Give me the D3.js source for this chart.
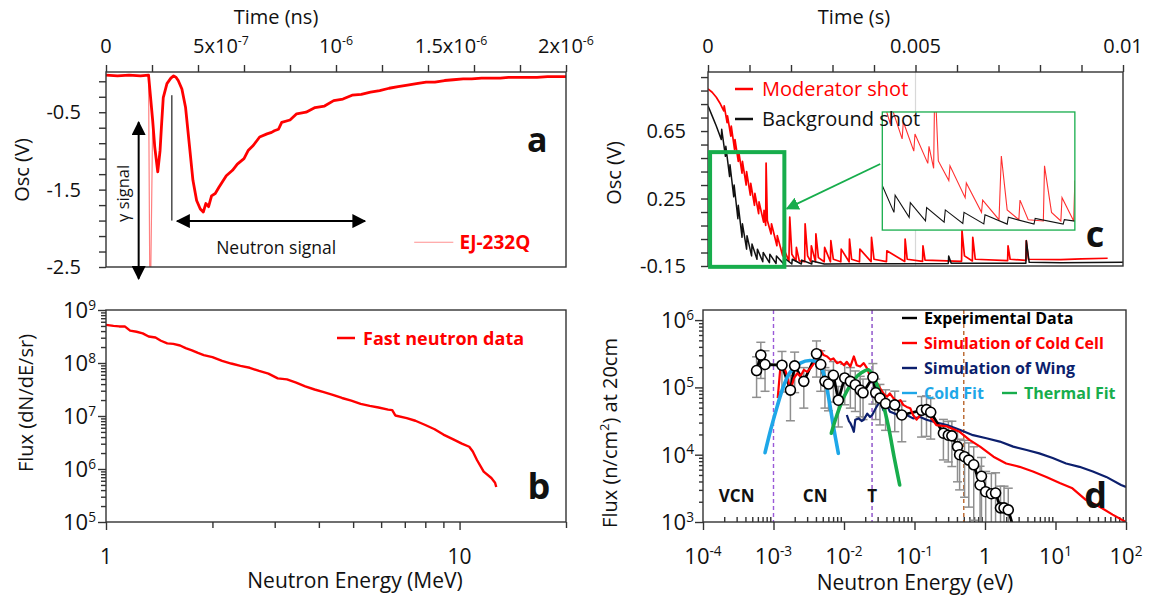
<!DOCTYPE html>
<html>
<head>
<meta charset="utf-8">
<script src="https://cdn.jsdelivr.net/npm/d3@7"></script>
<style>
  body { margin: 0; background: #fff; }
  svg { font-family: "Open Sans", "Noto Sans", sans-serif; }
</style>
</head>
<body>
<svg id="fig" width="1157" height="597"></svg>
<script>
// ---------- panel a : scintillator pulse (time in microseconds, volts) ----------
const pulseTimeUs = [0, 0.05, 0.1, 0.15, 0.185, 0.203, 0.212, 0.225, 0.235, 0.241, 0.249, 0.265, 0.282, 0.294, 0.305,
  0.314, 0.330, 0.346, 0.362, 0.378, 0.394, 0.410, 0.423, 0.434, 0.446, 0.459, 0.475, 0.491, 0.523, 0.55,
  0.571, 0.60, 0.619, 0.64, 0.668, 0.70, 0.72, 0.732, 0.75, 0.764, 0.80, 0.829, 0.87, 0.909, 0.95,
  0.99, 1.03, 1.07, 1.11, 1.15, 1.19, 1.231, 1.27, 1.311, 1.35, 1.392, 1.43, 1.472, 1.51, 1.553,
  1.59, 1.633, 1.67, 1.714, 1.75, 1.794, 1.83, 1.874, 1.92, 1.96, 2.0];
const pulseVolt = [-0.02, -0.03, -0.02, -0.03, -0.02, -0.61, -0.95, -1.27, -1.0, -0.69, -0.31, -0.13, -0.06, -0.03, -0.05,
  -0.09, -0.2, -0.44, -0.91, -1.38, -1.64, -1.75, -1.79, -1.68, -1.72, -1.58, -1.55, -1.47, -1.32, -1.25,
  -1.17, -1.1, -0.99, -0.93, -0.82, -0.78, -0.76, -0.74, -0.72, -0.63, -0.6, -0.52, -0.5, -0.44, -0.42,
  -0.35, -0.33, -0.28, -0.27, -0.24, -0.22, -0.19, -0.17, -0.15, -0.13, -0.11, -0.11, -0.09, -0.08, -0.07,
  -0.07, -0.06, -0.06, -0.06, -0.05, -0.05, -0.05, -0.05, -0.04, -0.04, -0.04];
const gammaTimeUs = [0.185, 0.19, 0.195, 0.203];
const gammaVolt = [-0.02, -2.5, -2.5, -0.61];
const timeTicksUs = [0, 0.2, 0.4, 0.6, 0.8, 1.0, 1.2, 1.4, 1.6, 1.8, 2.0];
const timeLabelsUs = [0, 0.5, 1, 1.5, 2];
const timeLabelText = [['0', ''], ['5x10', '-7'], ['10', '-6'], ['1.5x10', '-6'], ['2x10', '-6']];
const voltTicks = [-2.5, -2.3, -2.1, -1.9, -1.7, -1.5, -1.3, -1.1, -0.9, -0.7, -0.5, -0.3, -0.1];
const voltLabels = [-0.5, -1.5, -2.5];

// ---------- panel b : fast neutron spectrum ----------
const fastEnergy = [1.0, 1.05, 1.09, 1.13, 1.17, 1.22, 1.27, 1.32, 1.38, 1.43, 1.49, 1.55, 1.62, 1.68, 1.75,
  1.82, 1.89, 2.0, 2.13, 2.26, 2.40, 2.55, 2.71, 2.88, 3.06, 3.25, 3.45, 3.66, 3.89, 4.13,
  4.38, 4.65, 4.94, 5.25, 5.57, 5.9, 6.28, 6.45, 6.58, 7.09, 7.5, 8.0, 8.5, 9.0, 9.6,
  10.15, 10.65, 10.9, 11.2, 11.7, 12.3, 12.6, 12.7];
const fastLogFlux = [8.72, 8.70, 8.69, 8.69, 8.61, 8.59, 8.56, 8.50, 8.48, 8.42, 8.37, 8.36, 8.33, 8.28, 8.24,
  8.19, 8.15, 8.11, 8.04, 7.99, 7.945, 7.91, 7.85, 7.80, 7.71, 7.69, 7.63, 7.56, 7.50, 7.45,
  7.40, 7.34, 7.29, 7.23, 7.19, 7.16, 7.12, 7.11, 7.01, 6.96, 6.91, 6.83, 6.75, 6.65, 6.56,
  6.48, 6.42, 6.33, 6.17, 5.95, 5.83, 5.74, 5.66];
const fastDecades = [5, 6, 7, 8, 9];
const fastEnergyLabels = [1, 10];

// ---------- panel c : oscilloscope traces (time in ms, volts) ----------
const bgTimeMs = [0, 0.10, 0.20, 0.32, 0.33, 0.42, 0.43, 0.52, 0.53, 0.62, 0.63, 0.72, 0.73, 0.82, 0.83,
  0.93, 0.94, 1.05, 1.06, 1.18, 1.19, 1.32, 1.33, 1.48, 1.49, 1.64, 1.65, 1.82, 1.83, 2.02,
  2.03, 2.25, 2.26, 2.5, 2.51, 2.8, 3.5, 4.5, 5.79, 5.80, 5.86, 7.66, 7.67, 7.74, 8.5, 10.0];
const bgVolt = [0.80, 0.74, 0.68, 0.60, 0.66, 0.50, 0.56, 0.38, 0.45, 0.26, 0.33, 0.13, 0.21, 0.02, 0.10,
  -0.05, 0.03, -0.09, -0.02, -0.11, -0.05, -0.125, -0.07, -0.13, -0.08, -0.135, -0.09, -0.137, -0.10, -0.138,
  -0.11, -0.138, -0.115, -0.138, -0.12, -0.138, -0.137, -0.136, -0.135, -0.09, -0.134, -0.133, 0.0, -0.128, -0.13, -0.128];
const modTimeMs = [0, 0.10, 0.20, 0.30, 0.38, 0.39, 0.46, 0.47, 0.55, 0.56, 0.64, 0.65, 0.73, 0.74, 0.82,
  0.83, 0.92, 0.93, 1.02, 1.03, 1.12, 1.13, 1.22, 1.23, 1.34, 1.35, 1.39, 1.40, 1.43, 1.52,
  1.53, 1.66, 1.67, 1.80, 1.81, 1.95, 1.97, 2.02, 2.12, 2.13, 2.2, 2.33, 2.34, 2.40, 2.48,
  2.49, 2.59, 2.60, 2.66, 2.80, 2.81, 2.95, 2.96, 3.02, 3.20, 3.21, 3.40, 3.41, 3.46, 3.65,
  3.66, 3.93, 3.94, 4.00, 4.30, 4.31, 4.74, 4.75, 4.80, 5.17, 5.18, 5.23, 6.11, 6.12, 6.18,
  6.37, 6.38, 6.44, 7.22, 7.23, 7.28, 7.66, 7.67, 7.72, 8.5, 9.0, 9.63];
const modVolt = [0.90, 0.88, 0.85, 0.81, 0.77, 0.80, 0.70, 0.74, 0.62, 0.68, 0.54, 0.60, 0.47, 0.53, 0.40,
  0.47, 0.33, 0.41, 0.27, 0.34, 0.21, 0.28, 0.16, 0.23, 0.11, 0.18, 0.09, 0.46, 0.12, 0.04,
  0.10, -0.03, 0.03, -0.09, -0.04, -0.12, 0.14, -0.08, -0.12, -0.04, -0.12, -0.125, 0.10, -0.09, -0.125,
  -0.03, -0.125, 0.04, -0.10, -0.125, -0.04, -0.125, 0.00, -0.11, -0.125, -0.05, -0.125, 0.01, -0.11, -0.125,
  -0.05, -0.124, 0.02, -0.11, -0.124, -0.06, -0.123, 0.01, -0.11, -0.123, -0.03, -0.115, -0.122, 0.06, -0.09,
  -0.12, 0.02, -0.11, -0.118, -0.03, -0.11, -0.117, 0.00, -0.11, -0.112, -0.108, -0.104];
const oscTicksMs = [0, 1, 2, 3, 4, 5, 6, 7, 8, 9, 10];
const oscLabelsMs = [0, 5, 10];
const oscVoltTicks = [-0.15, -0.07, 0.01, 0.09, 0.17, 0.25, 0.33, 0.41, 0.49, 0.57, 0.65, 0.73, 0.81, 0.89, 0.97];
const oscVoltLabels = [-0.15, 0.25, 0.65];
const insetWindowMs = [0.95, 2.6];
const insetWindowVolt = [-0.15, 0.32];

// ---------- panel d : slow neutron spectrum (log10 of energy in eV, log10 of flux) ----------
const expLogE = [-3.24, -3.18, -3.12, -2.88, -2.76, -2.70, -2.57, -2.39, -2.33, -2.27, -2.22, -2.15, -2.08, -1.99, -1.91,
  -1.84, -1.77, -1.73, -1.59, -1.55, -1.49, -1.41, -1.28, -1.18, -0.90, -0.83, -0.77, -0.59, -0.52, -0.47,
  -0.39, -0.36, -0.29, -0.23, -0.16, -0.07, -0.05, 0.01, 0.09, 0.15, 0.22, 0.27, 0.33];
const expLogF = [5.25, 5.48, 5.34, 5.33, 4.96, 5.32, 5.09, 5.50, 5.34, 5.09, 5.05, 5.18, 4.81, 5.14, 5.09,
  5.04, 4.96, 4.92, 5.15, 4.92, 4.84, 4.76, 4.74, 4.59, 4.66, 4.67, 4.63, 4.32, 4.29, 4.28,
  4.12, 4.00, 3.97, 3.92, 3.85, 3.55, 3.68, 3.45, 3.42, 3.43, 3.21, 3.21, 3.18];
const expErrFrac = [0.6, 0.55, 0.6, 0.6, 0.65, 0.6, 0.6, 0.55, 0.6, 0.6, 0.6, 0.6, 0.6, 0.6, 0.6,
  0.6, 0.6, 0.6, 0.6, 0.6, 0.6, 0.6, 0.6, 0.6, 0.6, 0.6, 0.6, 0.6, 0.6, 0.65,
  0.7, 0.7, 0.75, 0.8, 0.85, 0.9, 0.9, 1.0, 1.0, 1.0, 1.1, 1.1, 1.1];
const expTailLogE = [0.42];
const expTailLogF = [2.85];
const coldCellLogE = [-2.94, -2.90, -2.87, -2.80, -2.76, -2.71, -2.66, -2.62, -2.57, -2.52, -2.48, -2.43, -2.38, -2.33, -2.29,
  -2.24, -2.19, -2.15, -2.10, -2.05, -2.00, -1.96, -1.91, -1.86, -1.82, -1.77, -1.72, -1.67, -1.63, -1.58,
  -1.53, -1.49, -1.44, -1.39, -1.35, -1.30, -1.25, -1.20, -1.16, -1.11, -1.06, -1.02, -0.97, -0.92, -0.87,
  -0.83, -0.78, -0.69, -0.54, -0.36, -0.22, -0.07, 0.12, 0.30, 0.49, 0.68, 0.87, 1.06, 1.24, 1.43,
  1.62, 1.81, 2.0];
const coldCellLogF = [4.84, 5.33, 5.36, 5.16, 4.94, 5.14, 5.21, 5.16, 5.26, 5.23, 5.28, 5.35, 5.48, 5.55, 5.48,
  5.46, 5.41, 5.43, 5.36, 5.38, 5.33, 5.38, 5.31, 5.46, 5.33, 5.31, 5.36, 5.28, 5.16, 5.11,
  5.06, 4.99, 4.91, 4.86, 4.91, 4.84, 4.79, 4.81, 4.74, 4.71, 4.69, 4.59, 4.52, 4.59, 4.66,
  4.61, 4.57, 4.44, 4.42, 4.34, 4.22, 4.12, 3.97, 3.87, 3.82, 3.75, 3.67, 3.58, 3.50, 3.33,
  3.23, 3.11, 3.00];
const wingLogE = [-1.96, -1.93, -1.91, -1.88, -1.86, -1.84, -1.79, -1.75, -1.72, -1.67, -1.63, -1.60, -1.55, -1.49, -1.44,
  -1.39, -1.35, -1.30, -1.20, -1.11, -1.02, -0.92, -0.83, -0.73, -0.54, -0.36, -0.17, 0.02, 0.21, 0.40,
  0.59, 0.77, 0.96, 1.15, 1.34, 1.53, 1.72, 1.93, 2.0];
const wingLogF = [4.59, 4.50, 4.47, 4.40, 4.34, 4.52, 4.54, 4.50, 4.52, 4.61, 4.56, 4.59, 4.69, 4.79, 4.66,
  4.74, 4.64, 4.62, 4.57, 4.59, 4.54, 4.56, 4.52, 4.49, 4.44, 4.37, 4.29, 4.245, 4.195, 4.12,
  4.07, 4.02, 3.95, 3.87, 3.82, 3.75, 3.67, 3.55, 3.52];
const coldFitLogE = [-3.12, -3.04, -2.95, -2.85, -2.76, -2.62, -2.48, -2.36, -2.29, -2.22, -2.15, -2.08];
const coldFitLogF = [4.03, 4.37, 4.71, 5.04, 5.23, 5.36, 5.40, 5.36, 5.21, 4.86, 4.42, 4.02];
const thermalFitLogE = [-2.18, -2.10, -2.00, -1.86, -1.75, -1.65, -1.56, -1.46, -1.37, -1.29, -1.21];
const thermalFitLogF = [4.32, 4.59, 4.86, 5.11, 5.22, 5.26, 5.11, 4.81, 4.42, 3.97, 3.55];
const regionEdgesEv = [0.001, 0.025, 0.5];
const regionEdgeColors = ['#9a5ad8', '#8a4cc8', '#b8642a'];
const energyDecades = [-4, -3, -2, -1, 0, 1, 2];
const energyLabelText = [['10', '-4'], ['10', '-3'], ['10', '-2'], ['10', '-1'], ['1', ''], ['10', '1'], ['10', '2']];
const fluxDecades = [3, 4, 5, 6];

// ---------- layout ----------
const boxA = { x0: 106, x1: 566, y0: 72, y1: 267 };
const boxB = { x0: 106, x1: 566, y0: 310, y1: 522 };
const boxC = { x0: 708, x1: 1123, y0: 72, y1: 266 };
const boxD = { x0: 703, x1: 1126, y0: 310, y1: 522 };
const RED = '#ff0000', NAVY = '#0c1f6d', SKY = '#1ea7e8', GREEN = '#17ad4c';

const svg = d3.select('#fig');
svg.append('rect').attr('width', 1157).attr('height', 597).attr('fill', '#fff');
const defs = svg.append('defs');

function arrowMarker(id, color, size) {
  defs.append('marker').attr('id', id)
    .attr('viewBox', '0 0 10 10').attr('refX', 9).attr('refY', 5)
    .attr('markerWidth', size).attr('markerHeight', size)
    .attr('markerUnits', 'userSpaceOnUse')
    .attr('orient', 'auto-start-reverse')
    .append('path').attr('d', 'M0,0 L10,5 L0,10 Z').attr('fill', color);
}
arrowMarker('arrK', '#000', 14);
arrowMarker('arrG', GREEN, 13);

function clipRect(id, b) {
  defs.append('clipPath').attr('id', id).append('rect')
    .attr('x', b.x0).attr('y', b.y0).attr('width', b.x1 - b.x0).attr('height', b.y1 - b.y0);
}
function frame(g, b) {
  g.append('rect').attr('x', b.x0).attr('y', b.y0)
    .attr('width', b.x1 - b.x0).attr('height', b.y1 - b.y0)
    .attr('fill', 'none').attr('stroke', '#333').attr('stroke-width', 1.4);
}
function cleanAxis(sel) {
  sel.select('.domain').remove();
  sel.selectAll('.tick line').attr('stroke', '#333').attr('stroke-width', 1.4);
}
function supText(parent, x, y, base, sup, size, anchor) {
  const t = parent.append('text').attr('x', x).attr('y', y)
    .attr('font-size', size).attr('text-anchor', anchor).attr('fill', '#111');
  t.append('tspan').text(base);
  if (sup) t.append('tspan').attr('dy', -size * 0.38).attr('font-size', size * 0.62).text(sup);
  return t;
}
function label(parent, x, y, txt, size, opts = {}) {
  const t = parent.append('text').attr('x', x).attr('y', y)
    .attr('font-size', size).attr('text-anchor', opts.anchor || 'middle')
    .attr('fill', opts.color || '#111')
    .attr('font-weight', opts.bold ? 700 : 400)
    .text(txt);
  if (opts.rotate) t.attr('transform', `rotate(-90,${x},${y})`);
  return t;
}
const near = (list, v) => list.some(l => Math.abs(l - v) < 1e-6);

// =========================== panel a ===========================
const gA = svg.append('g');
clipRect('clipA', boxA);
const xA = d3.scaleLinear().domain([0, 2]).range([boxA.x0, boxA.x1]);
const yA = d3.scaleLinear().domain([-2.5, 0.02]).range([boxA.y1, boxA.y0]);

gA.append('g').attr('transform', `translate(0,${boxA.y0})`)
  .call(d3.axisTop(xA).tickValues(timeTicksUs).tickSize(7).tickSizeOuter(0).tickFormat(''))
  .call(cleanAxis);
gA.append('g').attr('transform', `translate(${boxA.x0},0)`)
  .call(d3.axisLeft(yA).tickValues(voltTicks).tickSize(7).tickSizeOuter(0).tickFormat(''))
  .call(cleanAxis);
timeLabelsUs.forEach((t, i) => supText(gA, xA(t), 53, timeLabelText[i][0], timeLabelText[i][1], 20, 'middle'));
voltTicks.filter(v => near(voltLabels, v)).forEach(v => label(gA, boxA.x0 - 25, yA(v) + 7, v.toFixed(1), 20, { anchor: 'end' }));
label(gA, 276, 24, 'Time (ns)', 20);
label(gA, 29, 170, 'Osc (V)', 20, { rotate: true });

const lineA = d3.line().x(d => xA(d[0])).y(d => yA(d[1]));
const plotA = gA.append('g').attr('clip-path', 'url(#clipA)');
plotA.append('path').datum(d3.zip(gammaTimeUs, gammaVolt)).attr('d', lineA)
  .attr('fill', 'none').attr('stroke', '#ff8080').attr('stroke-width', 1.2);
plotA.append('path').datum(d3.zip(pulseTimeUs, pulseVolt)).attr('d', lineA)
  .attr('fill', 'none').attr('stroke', RED).attr('stroke-width', 2.8).attr('stroke-linejoin', 'round');
frame(gA, boxA);

// annotations
gA.append('line').attr('x1', xA(0.286)).attr('x2', xA(0.286)).attr('y1', yA(-0.28)).attr('y2', yA(-1.9))
  .attr('stroke', '#555').attr('stroke-width', 1.6);
gA.append('line').attr('x1', xA(0.31)).attr('x2', xA(1.126)).attr('y1', yA(-1.907)).attr('y2', yA(-1.907))
  .attr('stroke', '#000').attr('stroke-width', 2).attr('marker-start', 'url(#arrK)').attr('marker-end', 'url(#arrK)');
gA.append('line').attr('x1', xA(0.142)).attr('x2', xA(0.142)).attr('y1', yA(-0.63)).attr('y2', yA(-2.65))
  .attr('stroke', '#000').attr('stroke-width', 2).attr('marker-start', 'url(#arrK)').attr('marker-end', 'url(#arrK)');
label(gA, xA(0.072) + 6, yA(-1.55), 'γ signal', 16.5, { rotate: true });
label(gA, xA(0.74), yA(-2.26) + 6, 'Neutron signal', 17.5);
gA.append('line').attr('x1', xA(1.34)).attr('x2', xA(1.51)).attr('y1', yA(-2.18)).attr('y2', yA(-2.18))
  .attr('stroke', '#ff9090').attr('stroke-width', 1.2);
label(gA, xA(1.537), yA(-2.18) + 7, 'EJ-232Q', 19, { anchor: 'start', bold: true, color: RED });
label(gA, xA(1.875), yA(-0.87) + 11, 'a', 34, { bold: true });

// =========================== panel b ===========================
const gB = svg.append('g');
clipRect('clipB', boxB);
const xB = d3.scaleLog().domain([1, 20]).range([boxB.x0, boxB.x1]);
const yB = d3.scaleLog().domain([1e5, 1e9]).range([boxB.y1, boxB.y0]);
const fluxMinor = [];
fastDecades.slice(0, -1).forEach(p => { for (let m = 2; m <= 9; m++) fluxMinor.push(m * Math.pow(10, p)); });
const energyMinor = [2, 3, 4, 5, 6, 7, 8, 9, 20];

gB.append('g').attr('transform', `translate(${boxB.x0},0)`)
  .call(d3.axisLeft(yB).tickValues(fastDecades.map(p => Math.pow(10, p))).tickSize(8).tickSizeOuter(0).tickFormat(''))
  .call(cleanAxis);
gB.append('g').attr('transform', `translate(${boxB.x0},0)`)
  .call(d3.axisLeft(yB).tickValues(fluxMinor).tickSize(5).tickSizeOuter(0).tickFormat(''))
  .call(cleanAxis);
gB.append('g').attr('transform', `translate(0,${boxB.y1})`)
  .call(d3.axisBottom(xB).tickValues([1, 10]).tickSize(8).tickSizeOuter(0).tickFormat(''))
  .call(cleanAxis);
gB.append('g').attr('transform', `translate(0,${boxB.y1})`)
  .call(d3.axisBottom(xB).tickValues(energyMinor).tickSize(6).tickSizeOuter(0).tickFormat(''))
  .call(cleanAxis);
fastDecades.forEach(p => supText(gB, boxB.x0 - 10, yB(Math.pow(10, p)) + 8, '10', String(p), 22, 'end'));
fastEnergyLabels.forEach(e => label(gB, xB(e), 564, String(e), 21));
label(gB, 355, 588, 'Neutron Energy (MeV)', 21);
label(gB, 33, 403, 'Flux (dN/dE/sr)', 20, { rotate: true });

const lineB = d3.line().x(d => xB(d[0])).y(d => yB(Math.pow(10, d[1])));
gB.append('g').attr('clip-path', 'url(#clipB)').append('path')
  .datum(d3.zip(fastEnergy, fastLogFlux)).attr('d', lineB)
  .attr('fill', 'none').attr('stroke', RED).attr('stroke-width', 2.4).attr('stroke-linejoin', 'round');
frame(gB, boxB);
gB.append('line').attr('x1', 337).attr('x2', 355).attr('y1', 338).attr('y2', 338).attr('stroke', RED).attr('stroke-width', 2.5);
label(gB, 363, 345, 'Fast neutron data', 18, { anchor: 'start', bold: true, color: RED });
label(gB, 539, 499, 'b', 36, { bold: true });

// =========================== panel c ===========================
const gC = svg.append('g');
clipRect('clipC', boxC);
const xC = d3.scaleLinear().domain([0, 10]).range([boxC.x0, boxC.x1]);
const yC = d3.scaleLinear().domain([-0.15, 1.0]).range([boxC.y1, boxC.y0]);

gC.append('g').attr('transform', `translate(0,${boxC.y0})`)
  .call(d3.axisTop(xC).tickValues(oscTicksMs).tickSize(7).tickSizeOuter(0).tickFormat(''))
  .call(cleanAxis);
gC.append('g').attr('transform', `translate(${boxC.x0},0)`)
  .call(d3.axisLeft(yC).tickValues(oscVoltTicks).tickSize(7).tickSizeOuter(0).tickFormat(''))
  .call(cleanAxis);
oscLabelsMs.forEach(t => label(gC, xC(t), 53, String(+(t / 1000).toFixed(3)), 20));
oscVoltTicks.filter(v => near(oscVoltLabels, v)).forEach(v => label(gC, boxC.x0 - 22, yC(v) + 7, v.toFixed(2), 20, { anchor: 'end' }));
label(gC, 854, 24, 'Time (s)', 20);
label(gC, 621, 173, 'Osc (V)', 20, { rotate: true });

gC.append('line').attr('x1', xC(5)).attr('x2', xC(5)).attr('y1', boxC.y0).attr('y2', boxC.y1)
  .attr('stroke', '#d8d8d8').attr('stroke-width', 1.2);
const lineC = d3.line().x(d => xC(d[0])).y(d => yC(d[1]));
const plotC = gC.append('g').attr('clip-path', 'url(#clipC)');
plotC.append('path').datum(d3.zip(modTimeMs, modVolt)).attr('d', lineC)
  .attr('fill', 'none').attr('stroke', RED).attr('stroke-width', 1.7).attr('stroke-linejoin', 'round');
plotC.append('path').datum(d3.zip(bgTimeMs, bgVolt)).attr('d', lineC)
  .attr('fill', 'none').attr('stroke', '#111').attr('stroke-width', 1.5).attr('stroke-linejoin', 'round');
frame(gC, boxC);

// zoom box, inset and arrow
gC.append('rect').attr('x', xC(0.05)).attr('y', yC(0.525))
  .attr('width', xC(1.84) - xC(0.05)).attr('height', yC(-0.155) - yC(0.525))
  .attr('fill', 'none').attr('stroke', GREEN).attr('stroke-width', 4);
const insetBox = { x0: xC(4.2), x1: xC(8.84), y0: yC(0.763), y1: yC(0.063) };
clipRect('clipInset', insetBox);
gC.append('rect').attr('x', insetBox.x0).attr('y', insetBox.y0)
  .attr('width', insetBox.x1 - insetBox.x0).attr('height', insetBox.y1 - insetBox.y0)
  .attr('fill', '#fff').attr('stroke', 'none');
const xIn = d3.scaleLinear().domain(insetWindowMs).range([insetBox.x0, insetBox.x1]);
const yIn = d3.scaleLinear().domain(insetWindowVolt).range([insetBox.y1 - 3, insetBox.y0]);
const lineIn = d3.line().x(d => xIn(d[0])).y(d => yIn(d[1]));
const plotIn = gC.append('g').attr('clip-path', 'url(#clipInset)');
plotIn.append('path').datum(d3.zip(modTimeMs, modVolt)).attr('d', lineIn)
  .attr('fill', 'none').attr('stroke', '#ff3030').attr('stroke-width', 1.1);
plotIn.append('path').datum(d3.zip(bgTimeMs, bgVolt)).attr('d', lineIn)
  .attr('fill', 'none').attr('stroke', '#111').attr('stroke-width', 1.1);
gC.append('rect').attr('x', insetBox.x0).attr('y', insetBox.y0)
  .attr('width', insetBox.x1 - insetBox.x0).attr('height', insetBox.y1 - insetBox.y0)
  .attr('fill', 'none').attr('stroke', GREEN).attr('stroke-width', 1.3);
gC.append('line').attr('x1', xC(4.15)).attr('y1', yC(0.455)).attr('x2', xC(1.9)).attr('y2', yC(0.19))
  .attr('stroke', GREEN).attr('stroke-width', 1.8).attr('marker-end', 'url(#arrG)');

gC.append('line').attr('x1', 735).attr('x2', 753).attr('y1', 89).attr('y2', 89).attr('stroke', RED).attr('stroke-width', 2.5);
label(gC, 762, 96, 'Moderator shot', 20, { anchor: 'start', color: RED });
gC.append('line').attr('x1', 735).attr('x2', 753).attr('y1', 119).attr('y2', 119).attr('stroke', '#111').attr('stroke-width', 2.5);
label(gC, 762, 126, 'Background shot', 20, { anchor: 'start' });
label(gC, 1095, 247, 'c', 36, { bold: true });

// =========================== panel d ===========================
const gD = svg.append('g');
clipRect('clipD', boxD);
const xD = d3.scaleLog().domain([1e-4, 1e2]).range([boxD.x0, boxD.x1]);
const yD = d3.scaleLog().domain([1e3, Math.pow(10, 6.15)]).range([boxD.y1, boxD.y0]);
const eMinor = [], fMinor = [];
energyDecades.slice(0, -1).forEach(p => { for (let m = 2; m <= 9; m++) eMinor.push(m * Math.pow(10, p)); });
fluxDecades.forEach(p => { for (let m = 2; m <= 9; m++) { const v = m * Math.pow(10, p); if (v <= Math.pow(10, 6.15)) fMinor.push(v); } });

gD.append('g').attr('transform', `translate(0,${boxD.y1})`)
  .call(d3.axisBottom(xD).tickValues(energyDecades.map(p => Math.pow(10, p))).tickSize(8).tickSizeOuter(0).tickFormat(''))
  .call(cleanAxis);
gD.append('g').attr('transform', `translate(0,${boxD.y1})`)
  .call(d3.axisTop(xD).tickValues(eMinor).tickSize(5).tickSizeOuter(0).tickFormat(''))
  .call(cleanAxis);
gD.append('g').attr('transform', `translate(${boxD.x0},0)`)
  .call(d3.axisLeft(yD).tickValues(fluxDecades.map(p => Math.pow(10, p))).tickSize(8).tickSizeOuter(0).tickFormat(''))
  .call(cleanAxis);
gD.append('g').attr('transform', `translate(${boxD.x0},0)`)
  .call(d3.axisLeft(yD).tickValues(fMinor).tickSize(4).tickSizeOuter(0).tickFormat(''))
  .call(cleanAxis);
energyDecades.forEach((p, i) => supText(gD, xD(Math.pow(10, p)), 564, energyLabelText[i][0], energyLabelText[i][1], 22, 'middle'));
fluxDecades.forEach(p => supText(gD, boxD.x0 - 9, yD(Math.pow(10, p)) + 8, '10', String(p), 22, 'end'));
label(gD, 915, 590, 'Neutron Energy (eV)', 21);
const yTitle = gD.append('text').attr('x', 617).attr('y', 433).attr('font-size', 20)
  .attr('text-anchor', 'middle').attr('fill', '#111').attr('transform', 'rotate(-90,617,433)');
yTitle.append('tspan').text('Flux (n/cm');
yTitle.append('tspan').attr('dy', -8).attr('font-size', 13).text('2');
yTitle.append('tspan').attr('dy', 8).text(') at 20cm');

const plotD = gD.append('g').attr('clip-path', 'url(#clipD)');
regionEdgesEv.forEach((e, i) => plotD.append('line')
  .attr('x1', xD(e)).attr('x2', xD(e)).attr('y1', boxD.y0).attr('y2', boxD.y1)
  .attr('stroke', regionEdgeColors[i]).attr('stroke-width', 1.4).attr('stroke-dasharray', '4,3'));

const P = v => Math.pow(10, v);
const lineD = d3.line().x(d => xD(P(d[0]))).y(d => yD(P(d[1])));
const smoothD = d3.line().curve(d3.curveCatmullRom).x(d => xD(P(d[0]))).y(d => yD(P(d[1])));

// error bars
const expPts = d3.zip(expLogE, expLogF, expErrFrac);
const errG = plotD.append('g').attr('stroke', '#8f8f8f').attr('stroke-width', 1.5);
expPts.forEach(([le, lf, fr]) => {
  const f = P(lf), x = xD(P(le));
  const top = yD(f * (1 + fr)), bot = yD(Math.max(f * (1 - fr), 300));
  errG.append('line').attr('x1', x).attr('x2', x).attr('y1', top).attr('y2', bot);
  errG.append('line').attr('x1', x - 4.5).attr('x2', x + 4.5).attr('y1', top).attr('y2', top);
  if (fr < 0.95) errG.append('line').attr('x1', x - 4.5).attr('x2', x + 4.5).attr('y1', bot).attr('y2', bot);
});

plotD.append('path').datum(d3.zip(wingLogE, wingLogF)).attr('d', lineD)
  .attr('fill', 'none').attr('stroke', NAVY).attr('stroke-width', 2.2).attr('stroke-linejoin', 'round');
plotD.append('path').datum(d3.zip(expLogE.concat(expTailLogE), expLogF.concat(expTailLogF))).attr('d', lineD)
  .attr('fill', 'none').attr('stroke', '#000').attr('stroke-width', 2.8).attr('stroke-linejoin', 'round');
plotD.append('path').datum(d3.zip(coldCellLogE, coldCellLogF)).attr('d', lineD)
  .attr('fill', 'none').attr('stroke', RED).attr('stroke-width', 2.2).attr('stroke-linejoin', 'round');
plotD.append('path').datum(d3.zip(coldFitLogE, coldFitLogF)).attr('d', smoothD)
  .attr('fill', 'none').attr('stroke', SKY).attr('stroke-width', 3.6).attr('stroke-linecap', 'round');
plotD.append('path').datum(d3.zip(thermalFitLogE, thermalFitLogF)).attr('d', smoothD)
  .attr('fill', 'none').attr('stroke', GREEN).attr('stroke-width', 3.6).attr('stroke-linecap', 'round');
plotD.selectAll('circle.exp').data(expPts).enter().append('circle').attr('class', 'exp')
  .attr('cx', d => xD(P(d[0]))).attr('cy', d => yD(P(d[1]))).attr('r', 5)
  .attr('fill', '#fff').attr('stroke', '#000').attr('stroke-width', 1.6);
frame(gD, boxD);

const regionNames = ['VCN', 'CN', 'T'];
const regionNameEv = [3.0e-4, 3.9e-3, 0.025];
regionNames.forEach((n, i) => label(gD, xD(regionNameEv[i]), yD(2500) + 7, n, 17, { bold: true }));
label(gD, xD(P(1.57)), yD(P(3.38)) + 12, 'd', 36, { bold: true });

const legendD = [
  { text: 'Experimental Data', color: '#000', x: 902, y: 318 },
  { text: 'Simulation of Cold Cell', color: RED, x: 902, y: 343 },
  { text: 'Simulation of Wing', color: NAVY, x: 902, y: 368 },
  { text: 'Cold Fit', color: SKY, x: 902, y: 393 },
  { text: 'Thermal Fit', color: GREEN, x: 1002, y: 393 }
];
legendD.forEach(l => {
  gD.append('line').attr('x1', l.x).attr('x2', l.x + 15).attr('y1', l.y).attr('y2', l.y)
    .attr('stroke', l.color).attr('stroke-width', 2.4);
  label(gD, l.x + 22, l.y + 6, l.text, 16, { anchor: 'start', bold: true, color: l.color });
});
</script>
</body>
</html>
